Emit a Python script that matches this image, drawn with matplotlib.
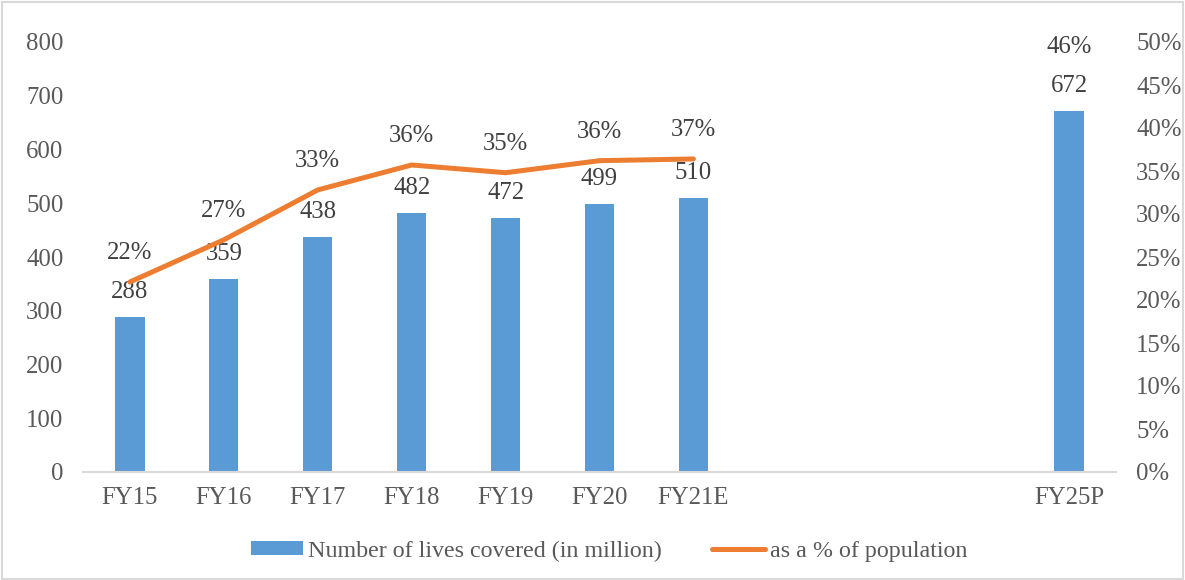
import numpy as np
import matplotlib
matplotlib.use("Agg")
import matplotlib.pyplot as plt
from matplotlib.patches import Rectangle

plt.rcParams['font.family'] = ['Liberation Serif', 'DejaVu Serif']

# datos
anios = ["FY15", "FY16", "FY17", "FY18", "FY19", "FY20", "FY21E", "", "", "", "FY25P"]
vidas = [288, 359, 438, 482, 472, 499, 510, np.nan, np.nan, np.nan, 672]
pct_linea = [22.1, 27.0, 32.8, 35.7, 34.8, 36.2, 36.4, np.nan, np.nan, np.nan, 46.0]
pct_etiq = ["22%", "27%", "33%", "36%", "35%", "36%", "37%", "", "", "", "46%"]

azul = "#5B9BD5"
naranja = "#ED7D31"
gris_txt = "#595959"
gris_dato = "#404040"
gris_linea = "#D9D9D9"
fs = 17.8

fig = plt.figure(figsize=(11.85, 5.8), dpi=100)
ax = fig.add_axes([83 / 1185, 1 - 472 / 580, (1116 - 83) / 1185, (472 - 42) / 580])
ax2 = ax.twinx()

x = np.arange(len(anios))
ax.bar(x, vidas, width=0.31, color=azul, label="Number of lives covered (in million)", zorder=2)
ax2.plot(x[:7], pct_linea[:7], color=naranja, lw=3.6, solid_capstyle="round",
         label="as a % of population", zorder=3)

ax.set_xlim(-0.5, len(anios) - 0.5)
ax.set_ylim(0, 800)
ax2.set_ylim(0, 50)
ax.set_yticks(range(0, 801, 100))
ax2.set_yticks(range(0, 51, 5))
ax2.set_yticklabels([f"{v}%" for v in range(0, 51, 5)])
ax.set_xticks(x)
ax.set_xticklabels(anios)

for a in (ax, ax2):
    for s in a.spines.values():
        s.set_visible(False)
    a.tick_params(length=0, labelsize=fs, labelcolor=gris_txt)
ax.spines["bottom"].set_visible(True)
ax.spines["bottom"].set_color(gris_linea)
ax.spines["bottom"].set_linewidth(1.5)
ax.tick_params(axis="x", pad=11)
ax.tick_params(axis="y", pad=14)
ax2.tick_params(axis="y", pad=14.5)

# etiquetas de barras
for xi, v in zip(x, vidas):
    if not np.isnan(v):
        ax.annotate(f"{int(v)}", (xi, v), xytext=(0, 25), textcoords="offset pixels",
                    ha="center", va="center", fontsize=fs, color=gris_dato)

# etiquetas de porcentaje
for xi, v, t in zip(x, pct_linea, pct_etiq):
    if t:
        ax2.annotate(t, (xi, v), xytext=(0, 29), textcoords="offset pixels",
                     ha="center", va="center", fontsize=fs, color=gris_dato)

h1, l1 = ax.get_legend_handles_labels()
h2, l2 = ax2.get_legend_handles_labels()
fig.legend(h1 + h2, l1 + l2, loc="center", bbox_to_anchor=(0.514, 1 - 551 / 580), ncol=2,
           frameon=False, fontsize=17.3, labelcolor=gris_txt, handlelength=2.2,
           handleheight=0.5, handletextpad=0.2, columnspacing=2.1)

fig.patches.append(Rectangle((0.002, 0.002), 0.996, 0.994, transform=fig.transFigure,
                             fill=False, edgecolor=gris_linea, lw=1.5))

fig.savefig("out.png", dpi=100)
